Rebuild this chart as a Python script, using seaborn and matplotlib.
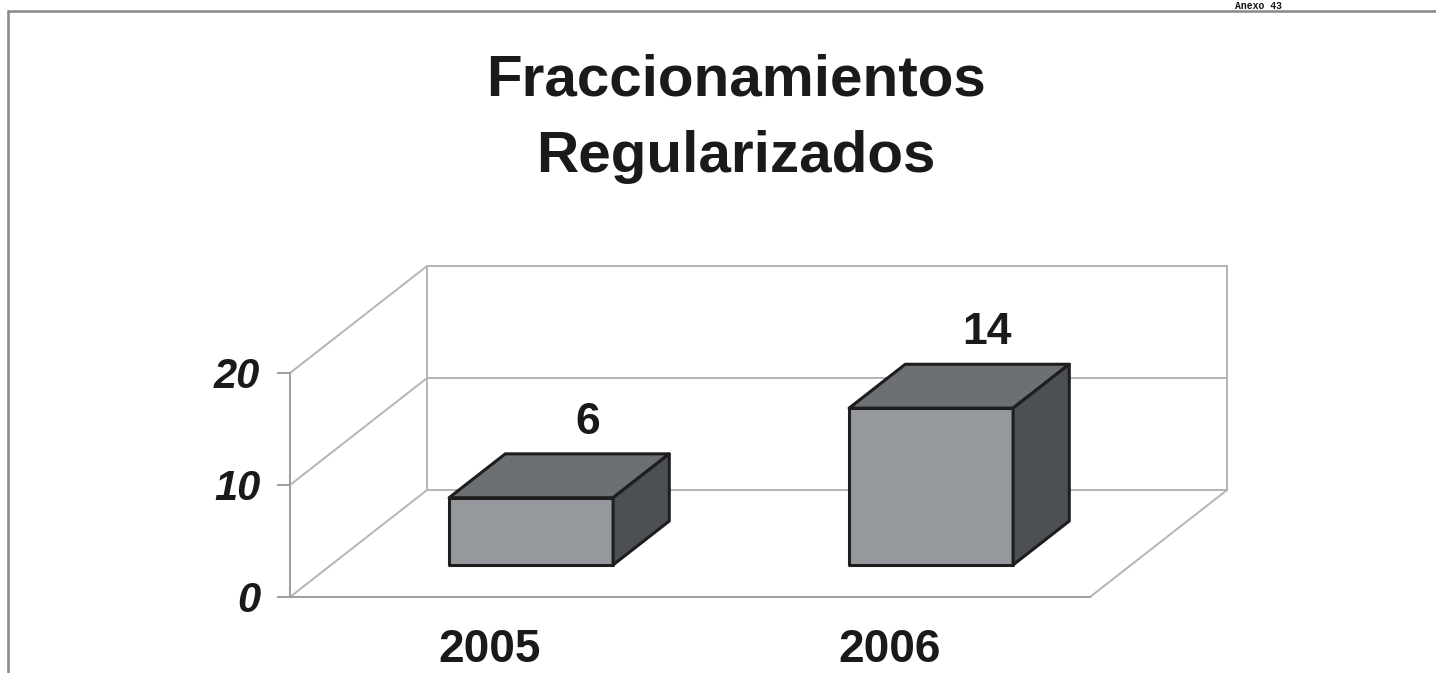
import matplotlib
matplotlib.use('Agg')
import matplotlib.pyplot as plt
import seaborn as sns
import pandas as pd
from matplotlib.patches import Polygon
from matplotlib.lines import Line2D

# ---- data ----
years = ['2005', '2006']
values = [6, 14]
y_ticks = [0, 10, 20]
title_lines = ['Fraccionamientos', 'Regularizados']
corner_note = 'Anexo 43'

sns.set_theme(style='white')
plt.rcParams['font.family'] = ['Liberation Sans', 'DejaVu Sans']

W, H = 1436, 673
fig = plt.figure(figsize=(W / 100, H / 100), dpi=100)
fig.patch.set_facecolor('white')
ax = fig.add_axes([290 / W, 76 / H, 800 / W, 224 / H])
ax.set_facecolor('none')

FRONT = '#95989c'
TOP = '#6c6f73'
SIDE = '#4c4f53'
EDGE = '#1e1e1e'
GRID = '#b4b4b4'
AXC = '#9c9c9c'

df = pd.DataFrame({'year': years, 'value': values})
sns.barplot(data=df, x='year', y='value', color=FRONT, saturation=1, width=0.41,
            edgecolor=EDGE, linewidth=2.2, ax=ax, zorder=3, errorbar=None)

ax.set_xlim(-0.5, 1.5)
ax.set_ylim(y_ticks[0], y_ticks[-1])

# oblique depth vector (data units) and bar depth placement
DX, DY = 0.3425, 9.55
f0, f1 = 0.30, 0.71
bd = f1 - f0

for p, v in zip(ax.patches, values):
    x0 = p.get_x() + f0 * DX
    y0 = f0 * DY
    w = p.get_width()
    h = p.get_height()
    p.set_x(x0)
    p.set_y(y0)
    p.set_clip_on(False)
    p.set_joinstyle('round')
    top = Polygon([(x0, y0 + h), (x0 + w, y0 + h),
                   (x0 + w + bd * DX, y0 + h + bd * DY), (x0 + bd * DX, y0 + h + bd * DY)],
                  closed=True, fc=TOP, ec=EDGE, lw=2.2, joinstyle='round', zorder=3, clip_on=False)
    side = Polygon([(x0 + w, y0), (x0 + w + bd * DX, y0 + bd * DY),
                    (x0 + w + bd * DX, y0 + h + bd * DY), (x0 + w, y0 + h)],
                   closed=True, fc=SIDE, ec=EDGE, lw=2.2, joinstyle='round', zorder=3, clip_on=False)
    ax.add_patch(top)
    ax.add_patch(side)
    ax.annotate(f'{v:g}', xy=(x0 + w / 2 + bd * DX, y0 + h + bd * DY), xytext=(0, 8),
                textcoords='offset points', ha='center', va='bottom', fontsize=32,
                fontweight='bold', color='#1a1a1a', annotation_clip=False, zorder=5)

# walls and grid lines
xl, xr = ax.get_xlim()
top_v = y_ticks[-1]
for t in y_ticks:
    ax.plot([xl, xl + DX], [t, t + DY], color=GRID, lw=1.4, clip_on=False, zorder=1)
    ax.plot([xl + DX, xr + DX], [t + DY, t + DY], color=GRID, lw=1.4, clip_on=False, zorder=1)
ax.plot([xl + DX, xl + DX], [DY, top_v + DY], color=GRID, lw=1.4, clip_on=False, zorder=1)
ax.plot([xr + DX, xr + DX], [DY, top_v + DY], color=GRID, lw=1.4, clip_on=False, zorder=1)
ax.plot([xr, xr + DX], [0, DY], color=GRID, lw=1.4, clip_on=False, zorder=1)

# axes styling
for s in ['top', 'right']:
    ax.spines[s].set_visible(False)
for s in ['left', 'bottom']:
    ax.spines[s].set_visible(True)
    ax.spines[s].set_color(AXC)
    ax.spines[s].set_linewidth(1.4)
ax.grid(False)
ax.set_xlabel('')
ax.set_ylabel('')
ax.set_yticks(y_ticks)
ax.set_yticklabels([str(t) for t in y_ticks], fontsize=30, fontweight='bold',
                   fontstyle='italic', color='#1a1a1a')
ax.set_xticks(range(len(years)))
ax.set_xticklabels(years, fontsize=33, fontweight='bold', color='#1a1a1a')
ax.tick_params(axis='y', left=True, length=9.5, width=1.4, color=AXC, pad=12, direction='out')
ax.tick_params(axis='x', bottom=False, length=0, pad=22)

# title
fig.text(736 / W, (H - 95) / H, title_lines[0], ha='center', va='baseline',
         fontsize=42, fontweight='bold', color='#1a1a1a')
fig.text(736 / W, (H - 172) / H, title_lines[1], ha='center', va='baseline',
         fontsize=42, fontweight='bold', color='#1a1a1a')

# small corner note above the page frame
fig.text(1282 / W, (H - 9) / H, corner_note, ha='right', va='baseline',
         fontsize=7, fontweight='bold', family=['Liberation Mono', 'DejaVu Sans Mono'],
         color='#111111')

# page frame
fig.add_artist(Line2D([8 / W, 8 / W], [0, (H - 11) / H], color='#8c8c8c', lw=1.9,
                      transform=fig.transFigure))
fig.add_artist(Line2D([8 / W, 1], [(H - 11) / H, (H - 11) / H], color='#8c8c8c', lw=1.9,
                      transform=fig.transFigure))

fig.savefig('out.png', dpi=100)
